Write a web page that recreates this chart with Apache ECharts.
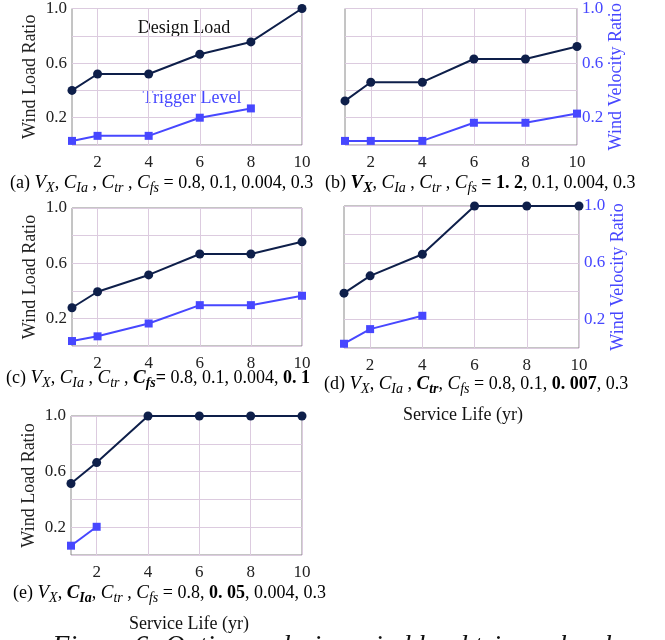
<!DOCTYPE html>
<html>
<head>
<meta charset="utf-8">
<script src="https://cdn.jsdelivr.net/npm/echarts@6/dist/echarts.min.js"></script>
<style>
html,body{margin:0;padding:0;background:#fff;}
#chart{width:665px;height:640px;}
</style>
</head>
<body>
<div id="chart"></div>
<script>
// service life (yr)
var years = [1, 2, 4, 6, 8, 10];
var xLabelValues = [2, 4, 6, 8, 10];
var yLabelValues = [0.2, 0.6, 1.0];

// design load / trigger level, one pair per panel
var designA = [0.40, 0.52, 0.52, 0.665, 0.755, 1.0];
var triggerA = [0.03, 0.067, 0.067, 0.20, 0.268];
var designB = [0.323, 0.46, 0.46, 0.63, 0.63, 0.722];
var triggerB = [0.03, 0.03, 0.03, 0.163, 0.163, 0.23];
var designC = [0.277, 0.393, 0.515, 0.667, 0.667, 0.755];
var triggerC = [0.036, 0.07, 0.163, 0.296, 0.296, 0.364];
var designD = [0.386, 0.508, 0.66, 1.0, 1.0, 1.0];
var triggerD = [0.03, 0.133, 0.227];
var designE = [0.514, 0.665, 1.0, 1.0, 1.0, 1.0];
var triggerE = [0.067, 0.203];

var navy = '#0e1f4a';
var blue = '#4747ff';
var serif = 'Liberation Serif';

var chart = echarts.init(document.getElementById('chart'));

function pair(vals) {
    return vals.map(function (v, k) { return [years[k], v]; });
}

// panels: grid box + which side the y labels go
var panels = [
    {box: {left: 72, top: 6, width: 230, height: 139}, design: designA, trigger: triggerA, right: false},
    {box: {left: 345, top: 5, width: 232, height: 140}, design: designB, trigger: triggerB, right: true},
    {box: {left: 72, top: 208, width: 230, height: 138}, design: designC, trigger: triggerC, right: false},
    {box: {left: 344, top: 206, width: 235, height: 142}, design: designD, trigger: triggerD, right: true},
    {box: {left: 71, top: 416, width: 231, height: 139}, design: designE, trigger: triggerE, right: false}
];

var grids = [], xAxes = [], yAxes = [], series = [];
panels.forEach(function (p, idx) {
    grids.push(Object.assign({show: true, borderColor: '#8a8a8a', borderWidth: 1, backgroundColor: '#fff'}, p.box));
    xAxes.push({
        type: 'value', gridIndex: idx, min: 1, max: 10,
        axisLine: {show: false},
        axisTick: {show: false, customValues: xLabelValues},
        axisLabel: {customValues: xLabelValues, color: '#222', fontSize: 17, fontFamily: serif, margin: 9},
        splitLine: {show: true, lineStyle: {color: '#dccbdf', width: 1}}
    });
    yAxes.push({
        type: 'value', gridIndex: idx, min: 0, max: 1, interval: 0.2,
        position: p.right ? 'right' : 'left',
        name: p.right ? 'Wind Velocity Ratio' : 'Wind Load Ratio',
        nameLocation: 'middle',
        nameMoveOverlap: false,
        nameGap: p.right ? 30 : 33,
        nameRotate: 90,
        nameTextStyle: {fontSize: 18, fontFamily: serif, color: p.right ? blue : '#222'},
        axisLine: {show: false},
        axisTick: {show: false},
        axisLabel: {
            color: p.right ? blue : '#222', fontSize: 17, fontFamily: serif, margin: 5,
            formatter: function (v) {
                for (var k = 0; k < yLabelValues.length; k++) {
                    if (Math.abs(v - yLabelValues[k]) < 1e-6) return v.toFixed(1);
                }
                return '';
            }
        },
        splitLine: {show: true, lineStyle: {color: '#dccbdf', width: 1}}
    });
    series.push({
        type: 'line', xAxisIndex: idx, yAxisIndex: idx, data: pair(p.design),
        symbol: 'circle', symbolSize: 9, color: navy,
        lineStyle: {color: navy, width: 2}, itemStyle: {color: navy},
        animation: false
    });
    series.push({
        type: 'line', xAxisIndex: idx, yAxisIndex: idx, data: pair(p.trigger),
        symbol: 'rect', symbolSize: 8, color: blue,
        lineStyle: {color: blue, width: 2}, itemStyle: {color: blue},
        animation: false
    });
});

var rich = {
    n: {fontFamily: serif, fontSize: 18, color: '#111'},
    b: {fontFamily: serif, fontSize: 18, fontWeight: 'bold', color: '#111'},
    i: {fontFamily: serif, fontSize: 19, fontStyle: 'italic', color: '#111'},
    bi: {fontFamily: serif, fontSize: 19, fontStyle: 'italic', fontWeight: 'bold', color: '#111'},
    s: {fontFamily: serif, fontSize: 14, fontStyle: 'italic', color: '#111', padding: [10, 0, 0, 0]},
    bs: {fontFamily: serif, fontSize: 14, fontStyle: 'italic', fontWeight: 'bold', color: '#111', padding: [10, 0, 0, 0]}
};

function caption(x, y, text) {
    return {
        type: 'text', x: x, y: y,
        style: {text: text, rich: rich, verticalAlign: 'middle', align: 'left'}
    };
}

chart.setOption({
    animation: false,
    textStyle: {fontFamily: serif},
    grid: grids,
    xAxis: xAxes,
    yAxis: yAxes,
    series: series,
    graphic: [
        {type: 'text', x: 184, y: 28, style: {text: 'Design Load', fontFamily: serif, fontSize: 18, fill: '#111', align: 'center', verticalAlign: 'middle'}},
        {type: 'text', x: 192, y: 98, style: {text: 'Trigger Level', fontFamily: serif, fontSize: 18, fill: blue, align: 'center', verticalAlign: 'middle'}},
        caption(10, 183, '{n|(a) }{i|V}{s|X}{n|, }{i|C}{s|Ia}{n| , }{i|C}{s|tr}{n| , }{i|C}{s|fs}{n| = 0.8, 0.1, 0.004, 0.3}'),
        caption(325, 183, '{n|(b) }{bi|V}{bs|X}{n|, }{i|C}{s|Ia}{n| , }{i|C}{s|tr}{n| , }{i|C}{s|fs}{b| = 1. 2}{n|, 0.1, 0.004, 0.3}'),
        caption(6, 378, '{n|(c) }{i|V}{s|X}{n|, }{i|C}{s|Ia}{n| , }{i|C}{s|tr}{n| , }{bi|C}{bs|fs}{b|= }{n|0.8, 0.1, 0.004, }{b|0. 1}'),
        caption(324, 384, '{n|(d) }{i|V}{s|X}{n|, }{i|C}{s|Ia}{n| , }{bi|C}{bs|tr}{n|, }{i|C}{s|fs}{n| = 0.8, 0.1, }{b|0. 007}{n|, 0.3}'),
        caption(13, 593, '{n|(e) }{i|V}{s|X}{n|, }{bi|C}{bs|Ia}{n|, }{i|C}{s|tr}{n| , }{i|C}{s|fs}{n| = 0.8, }{b|0. 05}{n|, 0.004, 0.3}'),
        {type: 'text', x: 463, y: 415, style: {text: 'Service Life (yr)', fontFamily: serif, fontSize: 18, fill: '#111', align: 'center', verticalAlign: 'middle'}},
        {type: 'text', x: 189, y: 624, style: {text: 'Service Life (yr)', fontFamily: serif, fontSize: 18, fill: '#111', align: 'center', verticalAlign: 'middle'}},
        {type: 'text', x: 332, y: 633, style: {text: 'Figure 6: Optimum design wind load trigger level', fontFamily: serif, fontSize: 28, fontStyle: 'italic', fill: '#111', align: 'center', verticalAlign: 'top'}}
    ]
});
</script>
</body>
</html>
